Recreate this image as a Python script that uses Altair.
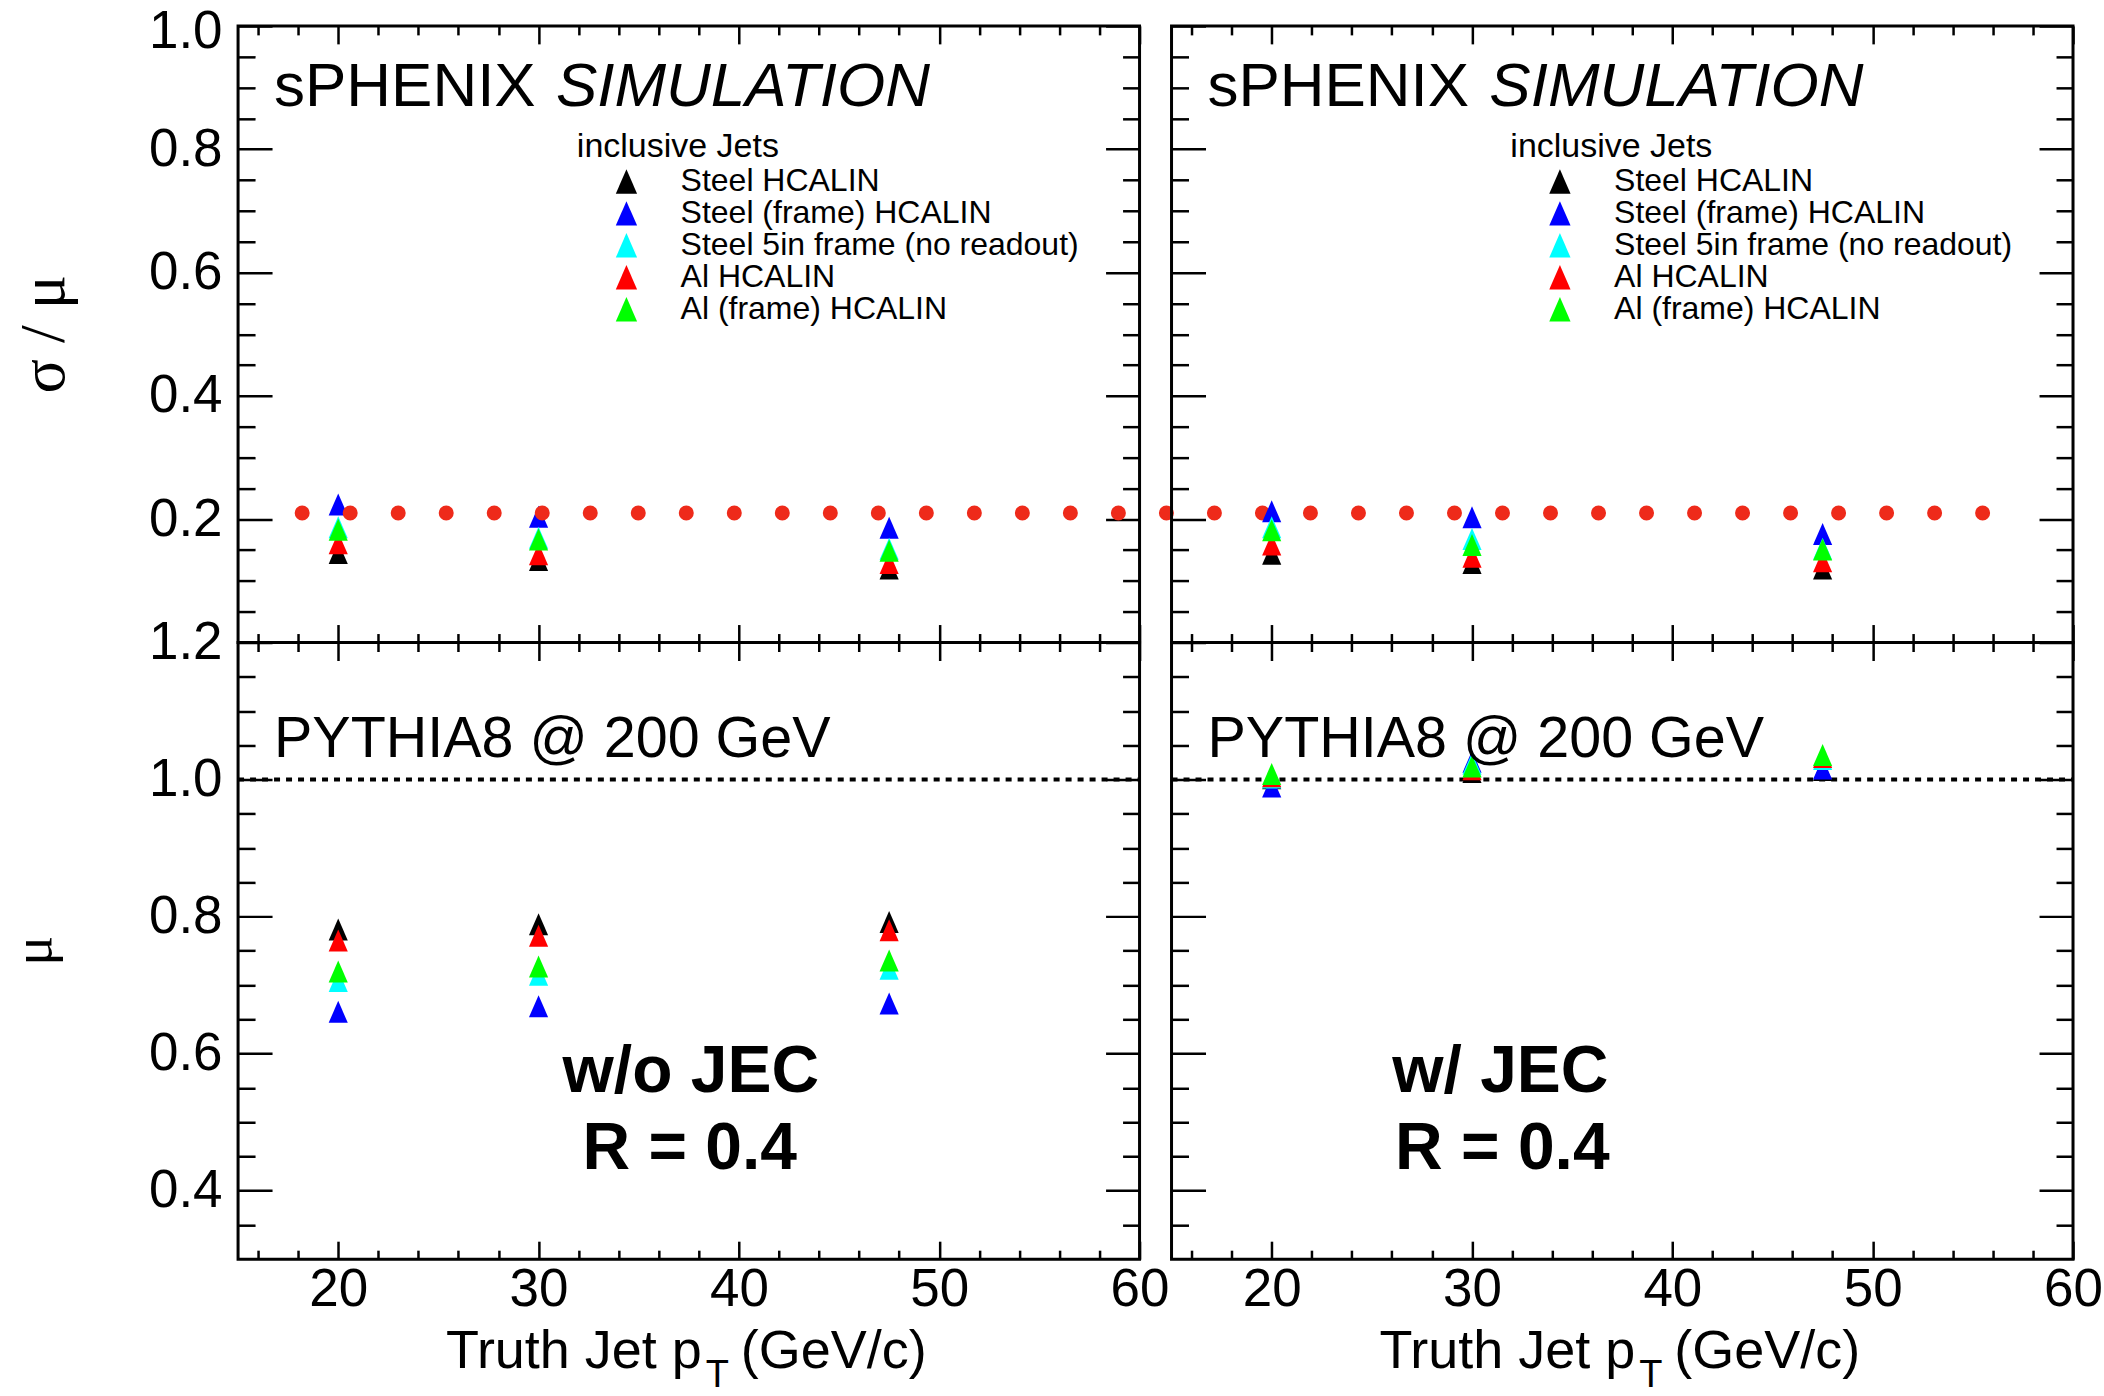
import altair as alt
import pandas as pd

FONT = "Liberation Sans"
SERIF = "Liberation Serif"

# ---------------- data ----------------
pt = [20.0, 30.0, 47.5]
series = ["Steel HCALIN", "Steel (frame) HCALIN", "Steel 5in frame (no readout)",
          "Al HCALIN", "Al (frame) HCALIN"]
series_colors = ["#000000", "#0000ff", "#00ffff", "#ff0000", "#00ff00"]

# sigma/mu without JEC (top-left)
res_wo_jec = {
    "Steel HCALIN": [0.145, 0.134, 0.120],
    "Steel (frame) HCALIN": [0.224, 0.204, 0.186],
    "Steel 5in frame (no readout)": [0.187, 0.170, 0.152],
    "Al HCALIN": [0.161, 0.143, 0.129],
    "Al (frame) HCALIN": [0.183, 0.167, 0.149],
}
# sigma/mu with JEC (top-right)
res_w_jec = {
    "Steel HCALIN": [0.144, 0.129, 0.120],
    "Steel (frame) HCALIN": [0.213, 0.203, 0.176],
    "Steel 5in frame (no readout)": [0.187, 0.168, 0.152],
    "Al HCALIN": [0.159, 0.139, 0.132],
    "Al (frame) HCALIN": [0.182, 0.158, 0.151],
}
# mu without JEC (bottom-left)
scale_wo_jec = {
    "Steel HCALIN": [0.781, 0.789, 0.792],
    "Steel (frame) HCALIN": [0.661, 0.669, 0.673],
    "Steel 5in frame (no readout)": [0.706, 0.715, 0.724],
    "Al HCALIN": [0.765, 0.772, 0.780],
    "Al (frame) HCALIN": [0.720, 0.727, 0.736],
}
# mu with JEC (bottom-right)
scale_w_jec = {
    "Steel HCALIN": [1.002, 1.011, 1.014],
    "Steel (frame) HCALIN": [0.990, 1.026, 1.016],
    "Steel 5in frame (no readout)": [1.003, 1.023, 1.030],
    "Al HCALIN": [1.005, 1.015, 1.033],
    "Al (frame) HCALIN": [1.008, 1.019, 1.036],
}

res_ref_y = [0.21]
res_ref_x = [18.2]
res_ref_x2 = [104.0]
scale_ref_y = [1.0]

x_domain = [15, 60]
x_major = [20, 30, 40, 50, 60]
x_minor = [16, 18, 22, 24, 26, 28, 32, 34, 36, 38, 42, 44, 46, 48, 52, 54, 56, 58]
res_domain = [0.0, 1.0]
res_major = [0.2, 0.4, 0.6, 0.8, 1.0]
res_minor = [0.05, 0.1, 0.15, 0.25, 0.3, 0.35, 0.45, 0.5, 0.55, 0.65, 0.7, 0.75, 0.85, 0.9, 0.95]
scale_domain = [0.3, 1.2]
scale_major = [0.4, 0.6, 0.8, 1.0, 1.2]
scale_minor = [0.35, 0.45, 0.5, 0.55, 0.65, 0.7, 0.75, 0.85, 0.9, 0.95, 1.05, 1.1, 1.15]

# ---------------- styling ----------------
W, H = 902, 617
TRI = "M0,-1L-0.87,1L0.87,1Z"
YMAJ, YMIN = 34, 17
XMAJ, XMIN = 18, 9
LBL = 53


def long_df(d):
    rows = []
    for s in series:
        for x, v in zip(pt, d[s]):
            rows.append({"pt": x, "val": v, "series": s})
    return pd.DataFrame(rows)


def ax(orient, values, size, labels=False, fmt=".1f", pad=12, **extra):
    kw = dict(orient=orient, values=values, tickSize=size, offset=-size, domain=False,
              grid=False, ticks=True, tickColor="black", tickWidth=2.5, title=None,
              labels=labels)
    if labels:
        kw.update(labelFont=FONT, labelFontSize=LBL, labelColor="black", labelPadding=pad,
                  format=fmt, labelFlush=False, labelOverlap=False)
    kw.update(extra)
    return alt.Axis(**kw)


def text(s, x, y, size, font=FONT, align="left", baseline="alphabetic", **kw):
    return alt.Chart(pd.DataFrame({"t": [s]})).mark_text(
        font=font, fontSize=size, align=align, baseline=baseline, color="black", **kw
    ).encode(x=alt.value(x), y=alt.value(y), text=alt.value(s))


def panel(d, ydom, ymaj, ymin, top, left, jec):
    xs = alt.Scale(domain=x_domain, nice=False, zero=False)
    ys = alt.Scale(domain=ydom, nice=False, zero=False)
    df = long_df(d)
    axdf = pd.DataFrame({"pt": x_domain, "val": ydom})

    if top:
        leg = alt.Legend(orient="none", legendX=372.6, legendY=139.6, title=None,
                         symbolType=TRI, symbolSize=600, symbolStrokeWidth=0,
                         symbolOpacity=1, labelFont=FONT, labelFontSize=32,
                         labelColor="black", labelOffset=38.2, rowPadding=0, padding=0,
                         labelLimit=0)
    else:
        leg = None

    # on the top panels the "1.0" label sits a little below its tick, as in ROOT
    main_y_vals = ymaj[:-1] if (top and left) else ymaj
    pts = alt.Chart(df).mark_point(filled=True, shape=TRI, size=484, opacity=1,
                                   strokeWidth=0).encode(
        x=alt.X("pt:Q", scale=xs, axis=ax("bottom", x_major, XMAJ, labels=not top, fmt="d", pad=4)),
        y=alt.Y("val:Q", scale=ys, axis=ax("left", main_y_vals, YMAJ, labels=left, pad=16)),
        color=alt.Color("series:N", scale=alt.Scale(domain=series, range=series_colors),
                        legend=leg),
    )

    def axis_layer(xa, ya):
        return alt.Chart(axdf).mark_point(opacity=0).encode(
            x=alt.X("pt:Q", scale=xs, axis=xa), y=alt.Y("val:Q", scale=ys, axis=ya))

    layers = [
        axis_layer(ax("bottom", x_minor, XMIN), ax("left", ymin, YMIN)),
        axis_layer(ax("top", x_major, XMAJ), ax("right", ymaj, YMAJ)),
        axis_layer(ax("top", x_minor, XMIN), ax("right", ymin, YMIN)),
    ]
    if top and left:
        layers.append(axis_layer(None, ax("left", ymaj[-1:], YMAJ, labels=True, pad=16,
                                          labelOffset=6)))

    if top:
        ref = pd.DataFrame({"x1": res_ref_x, "x2": res_ref_x2, "y": res_ref_y})
        extra = []
        if left:
            extra.append(alt.Chart(ref).mark_rule(
                color="#ee2a1a", strokeWidth=15, strokeDash=[0.01, 48.03],
                strokeCap="round", clip=False).encode(
                x=alt.X("x1:Q", scale=xs, axis=None), x2="x2:Q",
                y=alt.Y("y:Q", scale=ys, axis=None)))
            # invisible anchor fixing the layout bounds (top-left corner)
            extra.append(alt.Chart(pd.DataFrame({"a": [0]})).mark_rule(
                opacity=0, strokeWidth=1).encode(
                x=alt.value(-260), x2=alt.value(-250), y=alt.value(-40)))
        extra += [
            text("sPHENIX", 36, 80, 62),
            text("SIMULATION", 318, 80, 62, fontStyle="italic"),
            text("inclusive Jets", 339, 131, 34),
        ]
        if left:
            extra.append(text("σ / μ", -193, H / 2, 64, font=SERIF, align="center",
                              baseline="middle", angle=270))
        layers = [pts] + extra + layers
    else:
        ref = pd.DataFrame({"x1": [x_domain[0]], "x2": [x_domain[1]], "y": scale_ref_y})
        dash = alt.Chart(ref).mark_rule(color="black", strokeWidth=4,
                                        strokeDash=[6, 6]).encode(
            x=alt.X("x1:Q", scale=xs, axis=None), x2="x2:Q",
            y=alt.Y("y:Q", scale=ys, axis=None))
        extra = [
            text("PYTHIA8 @ 200 GeV", 36, 115, 57.5),
            text("Truth Jet p", 208, 726, 54),
            text("T", 468, 745, 38),
            text("(GeV/c)", 503, 726, 54),
        ]
        if jec:
            extra += [text("w/ JEC", 329, 450, 66, fontWeight="bold", align="center"),
                      text("R = 0.4", 331, 527, 66, fontWeight="bold", align="center")]
        else:
            extra += [text("w/o JEC", 453, 450, 66, fontWeight="bold", align="center"),
                      text("R = 0.4", 452, 527, 66, fontWeight="bold", align="center")]
        if left:
            extra.append(text("μ", -204, H / 2, 56, font=SERIF, align="center",
                              baseline="middle", angle=270))
        layers = [dash, pts] + extra + layers

    return alt.layer(*layers).resolve_axis(x="independent", y="independent").properties(
        width=W, height=H)


TL = panel(res_wo_jec, res_domain, res_major, res_minor, top=True, left=True, jec=False)
TR = panel(res_w_jec, res_domain, res_major, res_minor, top=True, left=False, jec=True)
BL = panel(scale_wo_jec, scale_domain, scale_major, scale_minor, top=False, left=True, jec=False)
BR = panel(scale_w_jec, scale_domain, scale_major, scale_minor, top=False, left=False, jec=True)

chart = alt.concat(
    TL, TR, BL, BR, columns=2, spacing={"row": 0, "column": 32}, bounds="flush"
).resolve_legend(color="independent").properties(
    padding={"left": -23.8, "top": -16.5, "right": 0, "bottom": 0},
    background="white",
).configure_view(stroke="black", strokeWidth=3)

chart.save("out.html", embed_options={"renderer": "svg", "actions": False})
